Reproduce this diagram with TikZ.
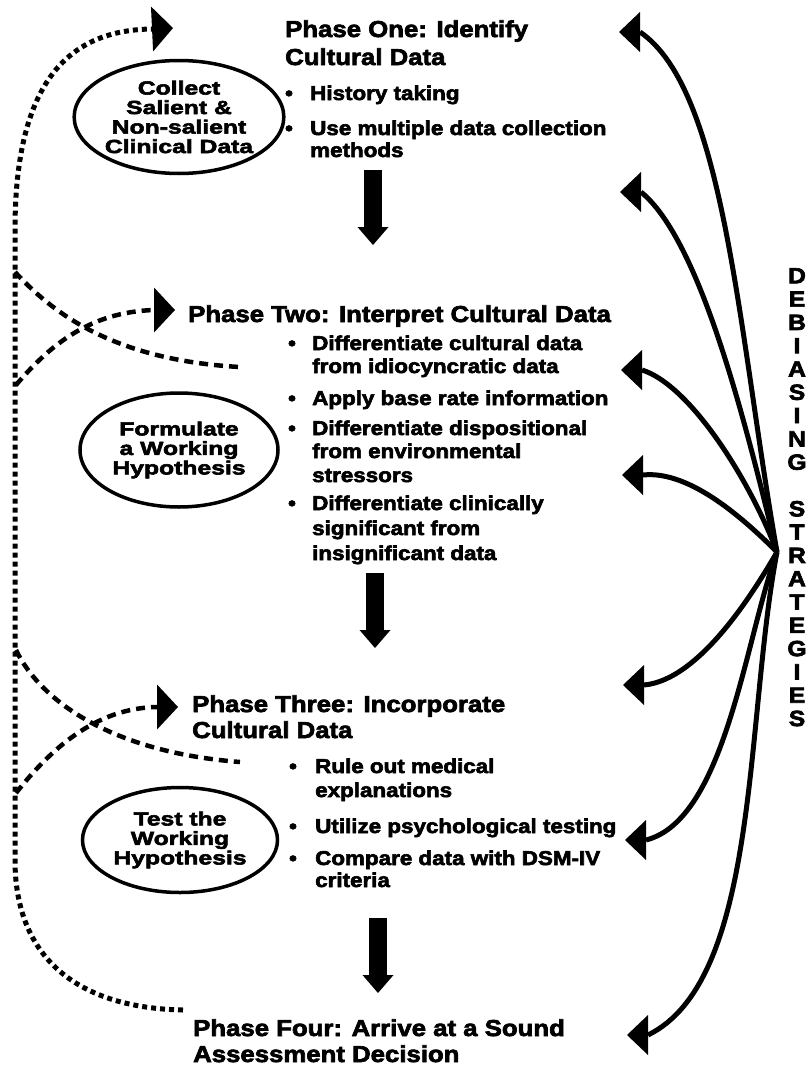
\documentclass[tikz,border=0pt]{standalone}
\usepackage{fontspec}
\setmainfont{Liberation Sans}[FakeStretch=1.12,FakeBold=3]
\newfontfamily\ellfont{Liberation Sans}[FakeStretch=1.3,FakeBold=3]
\usetikzlibrary{arrows.meta,shapes.geometric}
\tikzset{
  ttl/.style={font=\fontsize{23}{27}\selectfont\bfseries, anchor=base west, inner sep=0pt},
  bul/.style={font=\fontsize{20}{22}\selectfont\bfseries, anchor=base west, inner sep=0pt},
  bdot/.style={font=\fontsize{20}{22}\selectfont\bfseries, anchor=base, inner sep=0pt},
  oval/.style={ellipse, draw, line width=3.5pt, inner sep=0pt, align=center,
    font=\ellfont\fontsize{19}{19.5}\selectfont\bfseries},
  dotline/.style={line width=5pt, dash pattern=on 5pt off 4pt},
  dashline/.style={line width=4.5pt, dash pattern=on 9pt off 6pt},
  phasetip/.style={-{Triangle[width=45pt,length=21pt,line width=0pt]}},
  debarrow/.style={line width=5pt, -{Triangle[width=40pt,length=21pt,line width=0pt]}},
  blockarrow/.style={line width=18pt, -{Triangle[width=31pt,length=18pt,line width=0pt]}}
}
\begin{document}
\begin{tikzpicture}[x=1pt,y=-1pt]
\useasboundingbox (0,0) rectangle (808,1068);

% ---------- Phase One ----------
\node[ttl] (p1a) at (285,37) {Phase One: Identify};
\node[ttl] (p1b) at (285,65) {Cultural Data};
\node[bdot] (p1d1) at (289,100) {\textbullet};
\node[bul] (p1i1) at (310,100) {History taking};
\node[bdot] (p1d2) at (289,135) {\textbullet};
\node[bul] (p1i2) at (310,135) {Use multiple data collection};
\node[bul] (p1i2b) at (310,157) {methods};

% ---------- Phase Two ----------
\node[ttl] (p2a) at (188,322) {Phase Two: Interpret Cultural Data};
\node[bdot] (p2d1) at (292,350) {\textbullet};
\node[bul] (p2i1) at (312,350) {Differentiate cultural data};
\node[bul] (p2i1b) at (312,373) {from idiocyncratic data};
\node[bdot] (p2d2) at (292,405) {\textbullet};
\node[bul] (p2i2) at (312,405) {Apply base rate information};
\node[bdot] (p2d3) at (292,435) {\textbullet};
\node[bul] (p2i3) at (312,435) {Differentiate dispositional};
\node[bul] (p2i3b) at (312,458) {from environmental};
\node[bul] (p2i3c) at (312,482) {stressors};
\node[bdot] (p2d4) at (292,510) {\textbullet};
\node[bul] (p2i4) at (312,510) {Differentiate clinically};
\node[bul] (p2i4b) at (312,535) {significant from};
\node[bul] (p2i4c) at (312,560) {insignificant data};

% ---------- Phase Three ----------
\node[ttl] (p3a) at (192,712) {Phase Three: Incorporate};
\node[ttl] (p3b) at (192,738) {Cultural Data};
\node[bdot] (p3d1) at (293,773) {\textbullet};
\node[bul] (p3i1) at (315,773) {Rule out medical};
\node[bul] (p3i1b) at (315,797) {explanations};
\node[bdot] (p3d2) at (293,833) {\textbullet};
\node[bul] (p3i2) at (315,833) {Utilize psychological testing};
\node[bdot] (p3d3) at (293,865) {\textbullet};
\node[bul] (p3i3) at (315,865) {Compare data with DSM-IV};
\node[bul] (p3i3b) at (315,887) {criteria};

% ---------- Phase Four ----------
\node[ttl] (p4a) at (193,1036) {Phase Four: Arrive at a Sound};
\node[ttl] (p4b) at (193,1062) {Assessment Decision};

% ---------- ovals ----------
\node[oval, minimum width=194pt, minimum height=113pt] (e1) at (179,117)
  {Collect\\Salient \&\\Non-salient\\Clinical Data};
\node[oval, minimum width=198pt, minimum height=114pt] (e2) at (179,450)
  {Formulate\\a Working\\Hypothesis};
\node[oval, minimum width=195pt, minimum height=105pt] (e3) at (180,840)
  {Test the\\Working\\Hypothesis};

% ---------- debiasing label ----------
\node[font=\fontsize{22}{23.3}\selectfont\bfseries, align=center, anchor=north, inner sep=0pt]
  (deb) at (797,268)
  {D\\E\\B\\I\\A\\S\\I\\N\\G\\[23.3pt]S\\T\\R\\A\\T\\E\\G\\I\\E\\S};

% ---------- block arrows ----------
\coordinate (b1s) at (373,170); \coordinate (b1e) at (373,245);
\coordinate (b2s) at (375,573); \coordinate (b2e) at (375,648);
\coordinate (b3s) at (378,918); \coordinate (b3e) at (378,993);
\draw[blockarrow] (b1s) -- (b1e);
\draw[blockarrow] (b2s) -- (b2e);
\draw[blockarrow] (b3s) -- (b3e);

% ---------- left feedback lines ----------
\coordinate (ph1) at (173,28);
\coordinate (ph2) at (175,310);
\coordinate (ph3) at (178,707);
\coordinate (p4end) at (183,1010);
\coordinate (d2end) at (240,367);
\coordinate (d3end) at (240,762);
\coordinate (v2a) at (15,272);
\coordinate (v2b) at (16,385);
\coordinate (v3a) at (16,650);
\coordinate (v3b) at (16,793);

\draw[dotline, phasetip] (p4end) .. controls (80,1008) and (15,960) .. (15,860)
  -- (15,230) .. controls (15,80) and (70,30) .. (152,29) -- (ph1);

\draw[dashline] (v2a) .. controls (50,310) and (110,360) .. (d2end);
\draw[dashline, phasetip] (v2b) .. controls (50,345) and (90,312) .. (154,310) -- (ph2);
\draw[dashline] (v3a) .. controls (40,700) and (110,752) .. (d3end);
\draw[dashline, phasetip] (v3b) .. controls (50,750) and (95,708) .. (157,707) -- (ph3);

% ---------- debiasing arrows ----------
\coordinate (C) at (777,552);
\coordinate (r1) at (619,32);
\coordinate (r2) at (620,192);
\coordinate (r3) at (621,370);
\coordinate (r4) at (622,475);
\coordinate (r5) at (623,685);
\coordinate (r6) at (625,840);
\coordinate (r7) at (627,1035);
\draw[debarrow] (C) .. controls (738,330) and (725,90) .. (640,32) -- (r1);
\draw[debarrow] (C) .. controls (745,420) and (700,240) .. (641,192) -- (r2);
\draw[debarrow] (C) .. controls (750,480) and (690,385) .. (642,370) -- (r3);
\draw[debarrow] (C) .. controls (745,520) and (690,470) .. (643,475) -- (r4);
\draw[debarrow] (C) .. controls (755,590) and (700,680) .. (644,685) -- (r5);
\draw[debarrow] (C) .. controls (745,640) and (725,820) .. (646,840) -- (r6);
\draw[debarrow] (C) .. controls (745,720) and (760,980) .. (648,1035) -- (r7);

\end{tikzpicture}
\end{document}
